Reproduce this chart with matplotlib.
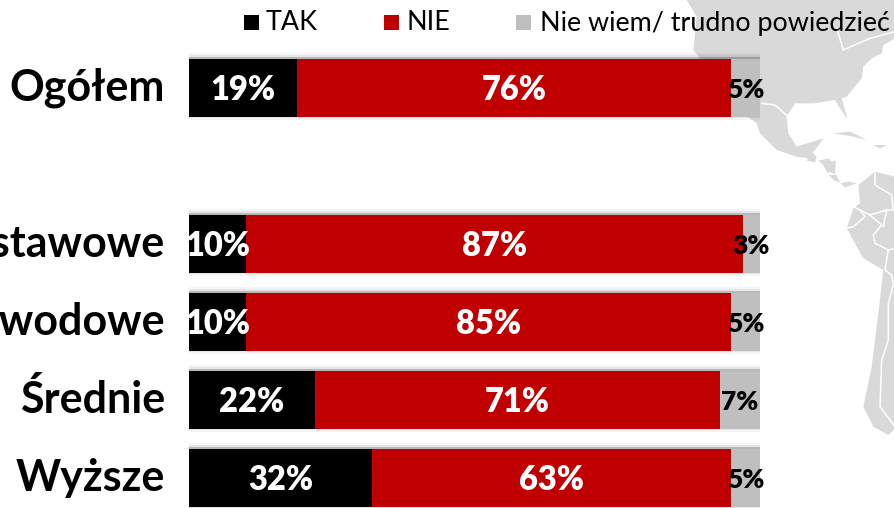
import matplotlib
matplotlib.use("Agg")
import matplotlib.pyplot as plt
from matplotlib.patches import Polygon, Rectangle

plt.rcParams['font.family'] = ['Lato', 'DejaVu Sans']

# --- Data ---
categories = ["Ogółem", "Podstawowe", "Zawodowe", "Średnie", "Wyższe"]
rows = [0, 2, 3, 4, 5]
tak = [19, 10, 10, 22, 32]
nie = [76, 87, 85, 71, 63]
nie_wiem = [5, 3, 5, 7, 5]
legend_labels = ["TAK", "NIE", "Nie wiem/ trudno powiedzieć"]

BLACK = "#000000"
RED = "#c00000"
GRAY = "#bfbfbf"
LAND = "#d9d9d9"

fig = plt.figure(figsize=(8.95, 5.08), dpi=100)

# --- Background map, drawn in pixel coordinates ---
bg = fig.add_axes([0, 0, 1, 1])
bg.set_xlim(0, 895)
bg.set_ylim(508, 0)
bg.axis("off")


# outlines were traced on 3x crops, so convert back to picture pixels
def north(points):
    return [(680 + x / 3, y / 3) for x, y in points]


def south(points):
    return [(820 + x / 3, 160 + y / 3) for x, y in points]


land_north = [
    [(20, 0), (645, 0), (645, 115), (610, 135), (605, 160), (575, 175), (550, 200), (545, 235),
     (500, 290), (485, 295), (503, 358), (480, 325), (465, 300), (400, 310), (345, 310),
     (320, 350), (325, 400), (350, 440), (430, 415), (405, 450), (385, 475), (350, 470),
     (290, 450), (240, 400), (230, 370), (190, 340), (40, 150), (50, 50)],
    [(380, 482), (395, 455), (410, 470), (405, 487)],
    [(415, 482), (445, 475), (458, 488), (430, 495)],
    [(430, 497), (468, 485), (465, 522), (445, 515)],
    [(450, 525), (465, 528), (482, 545), (465, 540)],
    [(485, 552), (510, 545), (495, 560)],
    [(460, 400), (510, 395), (560, 420), (520, 410)],
    [(580, 435), (620, 435), (600, 445)],
]
land_south = [
    [(115, 75), (165, 35), (225, 50), (225, 805), (205, 825), (160, 800), (130, 740), (155, 620),
     (175, 460), (190, 330), (130, 295), (80, 205), (100, 145), (120, 130)],
    [(10, 15), (48, 0), (40, 12), (22, 40)],
    [(28, 45), (50, 45), (60, 68), (40, 60)],
    [(62, 70), (85, 65), (110, 70), (75, 82)],
]
for shape in land_north:
    bg.add_patch(Polygon(north(shape), closed=True, fc=LAND, ec="none"))
for shape in land_south:
    bg.add_patch(Polygon(south(shape), closed=True, fc=LAND, ec="none"))

borders_north = [
    [(470, 85), (490, 150), (570, 115), (645, 95)],
    [(245, 310), (285, 315), (325, 350)],
    [(170, 355), (195, 385)],
]
borders_south = [
    [(165, 40), (165, 75), (215, 105), (220, 150)],
    [(100, 140), (150, 165), (185, 195), (160, 225), (165, 250), (205, 270), (195, 330),
     (215, 345), (220, 375), (205, 430), (205, 540), (185, 600), (180, 740), (225, 800)],
    [(120, 150), (135, 170), (100, 200), (80, 205)],
    [(150, 165), (200, 150), (190, 200)],
    [(200, 150), (225, 150)],
    [(205, 270), (225, 265)],
]
for line in borders_north:
    xs, ys = zip(*north(line))
    bg.plot(xs, ys, color="white", lw=1.1)
for line in borders_south:
    xs, ys = zip(*south(line))
    bg.plot(xs, ys, color="white", lw=1.1)

# --- Legend ---
legend_colors = [BLACK, RED, GRAY]
legend_box_x = [244, 384, 516]
legend_text_x = [266, 407, 540]
for label, color, bx, tx in zip(legend_labels, legend_colors, legend_box_x, legend_text_x):
    bg.add_patch(Rectangle((bx, 15), 15, 15, fc=color, ec="none"))
    bg.text(tx, 23, label, fontsize=19.4, color="black", va="center", ha="left")

# --- Bars ---
ax = fig.add_axes([189 / 895, 0, 571 / 895, (508 - 49) / 508])
ax.patch.set_alpha(0)
ax.set_xlim(0, 100)
ax.set_ylim((508 - 88) / 78, -0.5)
ax.axis("off")

# soft shadow around each bar, a bit stronger on top
shadow_rows = [r - 0.02 for r in rows]
ax.barh(shadow_rows, [100] * 5, height=0.86, color="#000000", alpha=0.04)
ax.barh(shadow_rows, [100] * 5, height=0.80, color="#000000", alpha=0.06)
ax.barh([r - 0.01 for r in rows], [100] * 5, height=0.77, color="#000000", alpha=0.20)

left2 = [a + b for a, b in zip(tak, nie)]
ax.barh(rows, tak, height=0.75, color=BLACK)
ax.barh(rows, nie, height=0.75, left=tak, color=RED)
ax.barh(rows, nie_wiem, height=0.75, left=left2, color=GRAY)

for r, name, a, b, c, l2 in zip(rows, categories, tak, nie, nie_wiem, left2):
    y = r + 0.03
    ax.text(a / 2, y, f"{a}%", color="white", fontsize=23.5, fontweight="heavy", ha="center", va="center")
    ax.text(a + b / 2, y, f"{b}%", color="white", fontsize=23.5, fontweight="heavy", ha="center", va="center")
    ax.text(l2 + c / 2, y, f"{c}%", color="black", fontsize=19, fontweight="heavy", ha="center", va="center")
    ax.annotate(name, xy=(0, r), xytext=(-24, 0), textcoords="offset pixels", fontsize=31,
                fontweight="bold", ha="right", va="center", annotation_clip=False)

fig.savefig("out.png", dpi=100)
